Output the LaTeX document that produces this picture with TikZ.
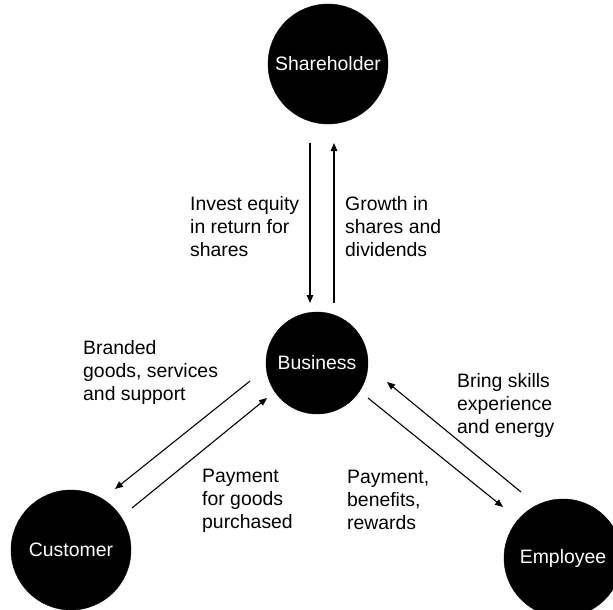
\documentclass[tikz,border=0pt]{standalone}
\usepackage{fontspec}
\setmainfont{Liberation Sans}
\usetikzlibrary{arrows.meta}

\tikzset{
  txt/.style={font=\fontsize{19.4}{23}\selectfont},
  party/.style={circle, fill=black, draw=black, text=white, inner sep=0pt, minimum size=#1, txt},
  flow/.style={-{Triangle[length=8pt,width=6.5pt]}, line width=1.1pt},
  lbl/.style={anchor=north west, align=left, inner sep=0pt, txt}
}

\begin{document}
\begin{tikzpicture}[x=1pt,y=-1pt]
  \useasboundingbox (0,0) rectangle (613,610);
  % Parties
  \foreach \n/\x/\y/\d/\name in {
    share/328/64/120/Shareholder,
    bus/317/363/102/Business,
    cust/71/550/120/Customer,
    emp/563/558/118/Employee
  }{
    \node[party=\d pt] (\n) at (\x,\y) {\name};
  }
  % Arrow end points
  \foreach \n/\x/\y in {
    inv1/310/143, inv2/310/303,
    grw1/334/303, grw2/334/143,
    brd1/250/381, brd2/115/489,
    pay1/132/508, pay2/267/398,
    skl1/521/492, skl2/387/382,
    wag1/368/398, wag2/503/507
  }{
    \coordinate (\n) at (\x,\y);
  }
  % Flows
  \foreach \a/\b in {inv1/inv2, grw1/grw2, brd1/brd2, pay1/pay2, skl1/skl2, wag1/wag2}
    \draw[flow] (\a) -- (\b);
  % Labels
  \node[lbl] (invest) at (190,196) {Invest equity\\in return for\\shares};
  \node[lbl] (growth) at (345,196) {Growth in\\shares and\\dividends};
  \node[lbl] (branded) at (83,340) {Branded\\goods, services\\and support};
  \node[lbl] (skills) at (457,373) {Bring skills\\experience\\and energy};
  \node[lbl] (paygoods) at (202,469) {Payment\\for goods\\purchased};
  \node[lbl] (payrew) at (347,470) {Payment,\\benefits,\\rewards};
\end{tikzpicture}
\end{document}
